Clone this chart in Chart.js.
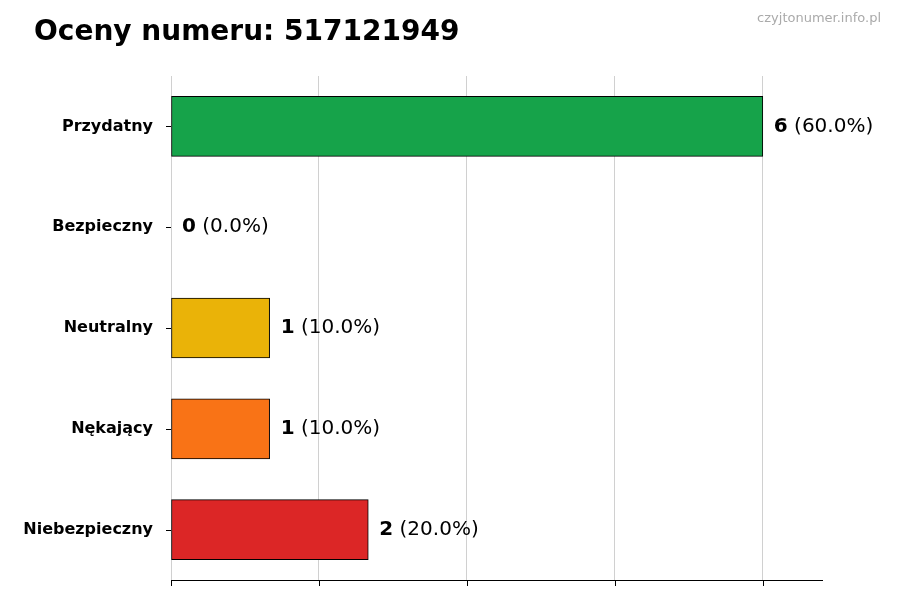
<!DOCTYPE html>
<html><head><meta charset="utf-8">
<script src="https://cdn.jsdelivr.net/npm/chart.js@4/dist/chart.umd.min.js"></script>
<style>html,body{margin:0;padding:0;background:#fff}#w{width:900px;height:600px}</style>
</head><body><div id="w"><canvas id="c"></canvas></div>
<script>
const categories = ["Przydatny","Bezpieczny","Neutralny","Nękający","Niebezpieczny"];
const counts = [6,0,1,1,2];
const percents = ["60.0%","0.0%","10.0%","10.0%","20.0%"];
const colors = ["#16a34a","#16a34a","#eab308","#f97316","#dc2626"];
const titleText = "Oceny numeru: 517121949";
const watermark = "czyjtonumer.info.pl";

const labelsPlugin = {
  id:'lbl',
  afterDatasetsDraw(chart){
    const ctx = chart.ctx;
    const meta = chart.getDatasetMeta(0);
    ctx.save();
    ctx.textBaseline='middle';
    meta.data.forEach((bar,i)=>{
      const x = bar.x + 11, y = bar.y;
      ctx.font = 'bold 20px "DejaVu Sans"';
      ctx.fillStyle='#000';
      const v = String(counts[i]);
      ctx.fillText(v, x, y);
      const w = ctx.measureText(v).width;
      ctx.font = '20px "DejaVu Sans"';
      ctx.fillText(' (' + percents[i] + ')', x + w, y);
    });
    ctx.font = 'bold 28px "DejaVu Sans"';
    ctx.textBaseline='alphabetic';
    ctx.fillText(titleText, 34, 40);
    ctx.font = '13px "DejaVu Sans"';
    ctx.fillStyle='#aaaaaa';
    ctx.textAlign='right';
    ctx.fillText(watermark, 881, 22);
    ctx.restore();
  }
};

new Chart(document.getElementById('c'), {
  type:'bar',
  data:{labels:categories, datasets:[{data:counts, backgroundColor:colors, borderColor:'#000', borderWidth:1, barThickness:60, borderSkipped:false}]},
  options:{
    indexAxis:'y', responsive:true, maintainAspectRatio:false, animation:false,
    layout:{padding:{top:76,right:78,bottom:0,left:0}},
    plugins:{legend:{display:false}, tooltip:{enabled:false}},
    scales:{
      x:{min:0,max:6.6,
        afterBuildTicks(s){s.ticks=[0,1.5,3,4.5,6].map(v=>({value:v}));},
        afterFit(s){s.height=20;},
        border:{display:true,color:'#000',width:1},
        grid:{color:'#d0d0d0',borderDash:[4,4],drawTicks:false,tickLength:6},
        ticks:{display:false}
      },
      y:{
        afterFit(s){s.width=171;},
        border:{display:false},
        grid:{display:false,drawTicks:true},
        ticks:{color:'#000',font:{family:'DejaVu Sans',size:16,weight:'bold'},padding:10}
      }
    }
  },
  plugins:[labelsPlugin,{
    id:'ticks',
    afterDraw(chart){
      const ctx=chart.ctx, a=chart.chartArea, xs=chart.scales.x, ys=chart.scales.y;
      ctx.save(); ctx.strokeStyle='#000'; ctx.lineWidth=1;
      [0,1.5,3,4.5,6].forEach(v=>{const x=Math.round(xs.getPixelForValue(v))+0.5;ctx.beginPath();ctx.moveTo(x,a.bottom);ctx.lineTo(x,a.bottom+6);ctx.stroke();});
      categories.forEach((c,i)=>{const y=Math.round(ys.getPixelForValue(i))+0.5;ctx.beginPath();ctx.moveTo(a.left-5,y);ctx.lineTo(a.left,y);ctx.stroke();});
      ctx.restore();
    }
  }]
});
</script></body></html>
